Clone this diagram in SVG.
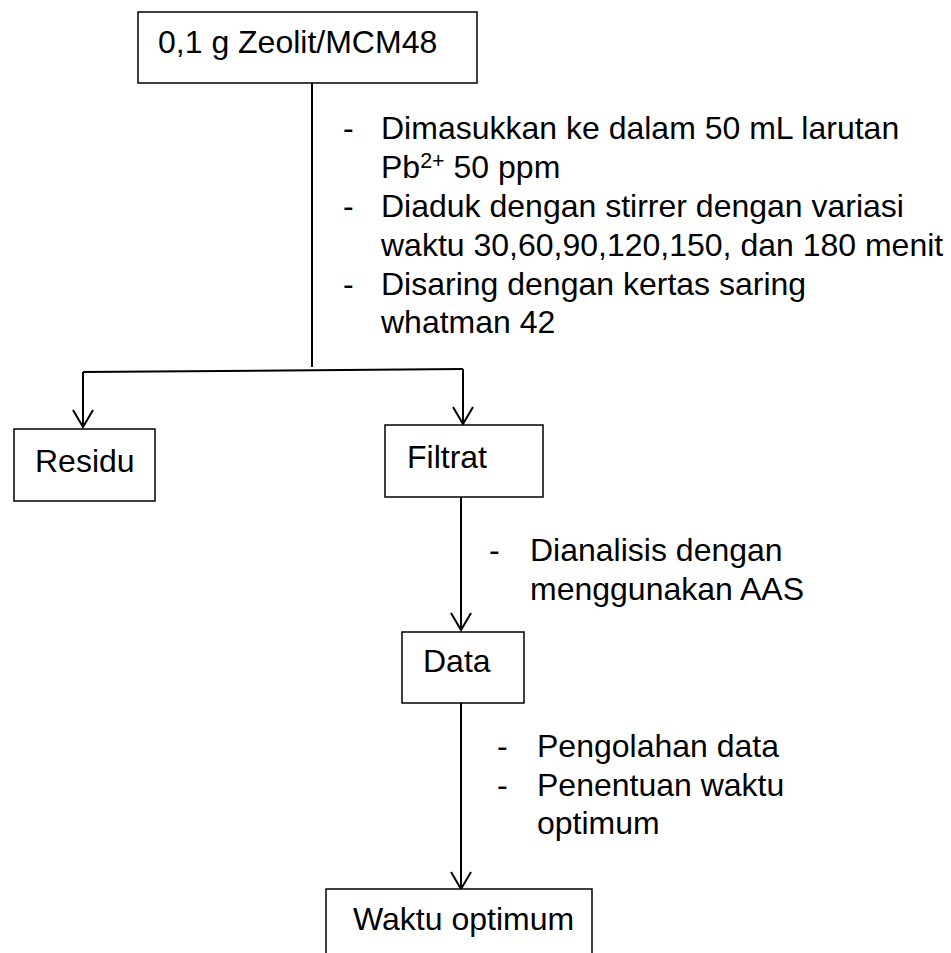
<svg xmlns="http://www.w3.org/2000/svg" width="951" height="953" viewBox="0 0 951 953">
  <style>
    .box { fill: #ffffff; stroke: #000000; stroke-width: 1.5; }
    .wire { fill: none; stroke: #000000; stroke-width: 2; }
    text { font-family: "Liberation Sans", Arial, sans-serif; font-size: 32px; fill: #000000; }
    .sup { font-size: 21.5px; }
  </style>
  <defs>
    <marker id="vhead" markerUnits="userSpaceOnUse" viewBox="-19 -12 21 24" markerWidth="21" markerHeight="24" refX="0" refY="0" orient="auto" overflow="visible">
      <path d="M-17,-10 L0,0 L-17,10" fill="none" stroke="#000000" stroke-width="2"/>
    </marker>
  </defs>
  <rect width="951" height="953" fill="#ffffff"/>

  <!-- connectors -->
  <g id="connectors">
    <line class="wire" x1="312" y1="83" x2="312" y2="367"/>
    <line class="wire" x1="83" y1="372" x2="463" y2="369"/>
    <line class="wire" x1="83" y1="372" x2="83" y2="427" marker-end="url(#vhead)"/>
    <line class="wire" x1="463" y1="369" x2="463" y2="424" marker-end="url(#vhead)"/>
    <line class="wire" x1="461" y1="497" x2="461" y2="630" marker-end="url(#vhead)"/>
    <line class="wire" x1="461" y1="703" x2="461" y2="889" marker-end="url(#vhead)"/>
  </g>

  <!-- step notes -->
  <g id="note-mixing">
    <text x="343" y="139">-</text>
    <text x="381" y="139">Dimasukkan ke dalam 50 mL larutan</text>
    <text x="381" y="178">Pb<tspan class="sup" dy="-10">2+</tspan><tspan dy="10"> 50 ppm</tspan></text>
    <text x="343" y="217">-</text>
    <text x="381" y="217">Diaduk dengan stirrer dengan variasi</text>
    <text x="381" y="256">waktu 30,60,90,120,150, dan 180 menit</text>
    <text x="343" y="295">-</text>
    <text x="381" y="295">Disaring dengan kertas saring</text>
    <text x="381" y="333">whatman 42</text>
  </g>
  <g id="note-analysis">
    <text x="489" y="561">-</text>
    <text x="530" y="561">Dianalisis dengan</text>
    <text x="530" y="600">menggunakan AAS</text>
  </g>
  <g id="note-processing">
    <text x="497" y="757">-</text>
    <text x="537" y="757">Pengolahan data</text>
    <text x="497" y="796">-</text>
    <text x="537" y="796">Penentuan waktu</text>
    <text x="537" y="834">optimum</text>
  </g>

  <!-- nodes -->
  <g id="node-sample">
    <rect class="box" x="138" y="12" width="339" height="71"/>
    <text x="158" y="53">0,1 g Zeolit/MCM48</text>
  </g>
  <g id="node-residu">
    <rect class="box" x="14" y="429" width="141" height="72"/>
    <text x="35" y="472">Residu</text>
  </g>
  <g id="node-filtrat">
    <rect class="box" x="385" y="425" width="158" height="72"/>
    <text x="407" y="468">Filtrat</text>
  </g>
  <g id="node-data">
    <rect class="box" x="402" y="632" width="122" height="71"/>
    <text x="423" y="672">Data</text>
  </g>
  <g id="node-optimum">
    <rect class="box" x="326" y="889" width="266" height="90"/>
    <text x="353" y="930">Waktu optimum</text>
  </g>
</svg>
